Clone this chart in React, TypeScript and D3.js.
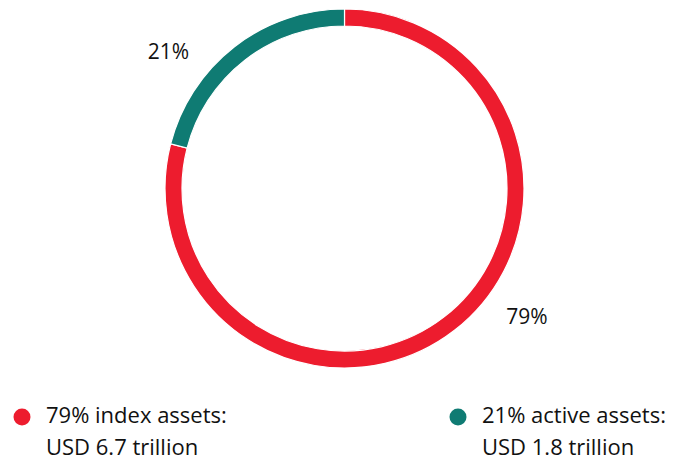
import React, { useRef, useEffect } from 'react';
import * as d3 from 'd3';

interface Slice {
  key: string;
  value: number;
}

const categories = ['index', 'active'];
const shares = [79, 21];
const legendLines = [
  ['79% index assets:', 'USD 6.7 trillion'],
  ['21% active assets:', 'USD 1.8 trillion'],
];
const colors = ['#ed1c2e', '#0f7b73'];

const W = 683;
const H = 461;

const DonutChart: React.FC = () => {
  const svgRef = useRef<SVGSVGElement | null>(null);

  useEffect(() => {
    const svg = d3.select(svgRef.current!);
    svg.selectAll('*').remove();

    const data: Slice[] = categories.map((c, i) => ({ key: c, value: shares[i] }));
    const color = d3.scaleOrdinal<string, string>().domain(categories).range(colors);

    const cx = 344.5;
    const cy = 188.5;
    const outer = 179.5;
    const inner = 162.5;

    const pie = d3.pie<Slice>().sort(null).value((d) => d.value);
    const arc = d3.arc<d3.PieArcDatum<Slice>>().innerRadius(inner).outerRadius(outer);

    const g = svg.append('g').attr('transform', `translate(${cx},${cy})`);
    const arcs = pie(data);

    g.selectAll('path')
      .data(arcs)
      .enter()
      .append('path')
      .attr('d', arc)
      .attr('fill', (d) => color(d.data.key))
      .attr('stroke', '#fff')
      .attr('stroke-width', 1.2);

    // labels sit outside the ring, pulled a bit toward the start of each slice
    const labelR = 223;
    const labelFrac = [0.44, 0.31];
    g.selectAll('text.pct')
      .data(arcs)
      .enter()
      .append('text')
      .attr('class', 'pct')
      .attr('x', (d, i) => {
        const a = d.startAngle + (d.endAngle - d.startAngle) * labelFrac[i];
        return labelR * Math.sin(a);
      })
      .attr('y', (d, i) => {
        const a = d.startAngle + (d.endAngle - d.startAngle) * labelFrac[i];
        return -labelR * Math.cos(a);
      })
      .attr('dy', '0.36em')
      .attr('text-anchor', 'middle')
      .attr('font-family', '"Open Sans", sans-serif')
      .attr('font-size', 21)
      .attr('fill', '#111')
      .text((d) => `${d.data.value}%`);

    // legend
    const legendX = [22, 458];
    const legend = svg.selectAll('g.legend')
      .data(categories)
      .enter()
      .append('g')
      .attr('class', 'legend')
      .attr('transform', (d, i) => `translate(${legendX[i]},417)`);

    legend.append('circle')
      .attr('r', 8.5)
      .attr('fill', (d) => color(d));

    legend.each(function (d, i) {
      const t = d3.select(this).append('text')
        .attr('font-family', '"Open Sans", sans-serif')
        .attr('font-size', 22)
        .attr('fill', '#111');
      legendLines[i].forEach((line, j) => {
        t.append('tspan')
          .attr('x', 24)
          .attr('y', 6 + j * 32)
          .text(line);
      });
    });
  }, []);

  return (
    <svg
      ref={svgRef}
      width={W}
      height={H}
      style={{ position: 'absolute', left: 0, top: 0, background: '#fff' }}
    />
  );
};

export default function App() {
  return <DonutChart />;
}
